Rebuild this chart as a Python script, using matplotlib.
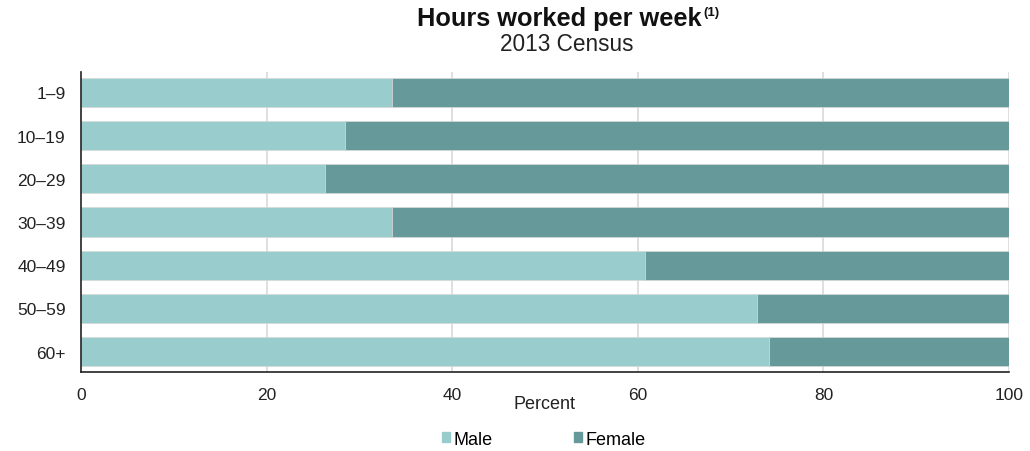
import matplotlib
matplotlib.use('Agg')
import matplotlib.pyplot as plt
import numpy as np
from matplotlib.patches import Patch

# Data
categories = ["1–9", "10–19", "20–29", "30–39", "40–49", "50–59", "60+"]
male = [33.5, 28.4, 26.3, 33.5, 60.8, 72.9, 74.1]
female = [100 - m for m in male]
x_ticks = [0, 20, 40, 60, 80, 100]

male_color = '#99cccc'
female_color = '#669999'

plt.rcParams['font.family'] = ['Liberation Sans', 'DejaVu Sans']

fig = plt.figure(figsize=(10.30, 4.52), dpi=100)
ax = fig.add_axes([0.0786, 0.1748, 0.9010, 0.6637])

y = np.arange(len(categories))
ax.barh(y, male, height=0.68, color=male_color, edgecolor='#d8d8d8',
        linewidth=0.5, zorder=2, label='Male')
ax.barh(y, female, left=male, height=0.68, color=female_color,
        edgecolor='#d8d8d8', linewidth=0.5, zorder=2, label='Female')

ax.set_xlim(0, 100)
ax.set_ylim(6.47, -0.47)
ax.set_yticks(y)
ax.set_yticklabels(categories, fontsize=12.5, color='#222222')
ax.set_xticks(x_ticks)
ax.set_xticklabels([str(t) for t in x_ticks], fontsize=12.5, color='#222222')
ax.tick_params(axis='y', length=0, pad=11)
ax.tick_params(axis='x', length=0, pad=11)

# vertical gridlines
for t in x_ticks[1:]:
    ax.axvline(t, color='#d9d9d9', linewidth=1.2, zorder=1)

for side in ['top', 'right']:
    ax.spines[side].set_visible(False)
ax.spines['left'].set_color('#222222')
ax.spines['bottom'].set_color('#222222')
ax.spines['left'].set_linewidth(1.2)
ax.spines['bottom'].set_linewidth(1.2)

ax.set_xlabel('Percent', fontsize=13, color='#222222', labelpad=-5)

# title with superscript note marker
fig.text(0.6816, 0.958, 'Hours worked per week', ha='right', va='center',
         fontsize=18.3, fontweight='bold', color='#111111')
fig.text(0.6830, 0.972, '(1)', ha='left', va='center',
         fontsize=9.5, fontweight='bold', color='#111111')
fig.text(0.550, 0.902, '2013 Census', ha='center', va='center',
         fontsize=16.3, color='#222222')

handles = [Patch(color=male_color, label='Male'),
           Patch(color=female_color, label='Female')]
fig.legend(handles=handles, loc='center', bbox_to_anchor=(0.528, 0.026), ncol=2,
           frameon=False, fontsize=13, handlelength=0.45, handleheight=0.45,
           handletextpad=0.2, columnspacing=4.5)

fig.savefig('out.png', dpi=100)
